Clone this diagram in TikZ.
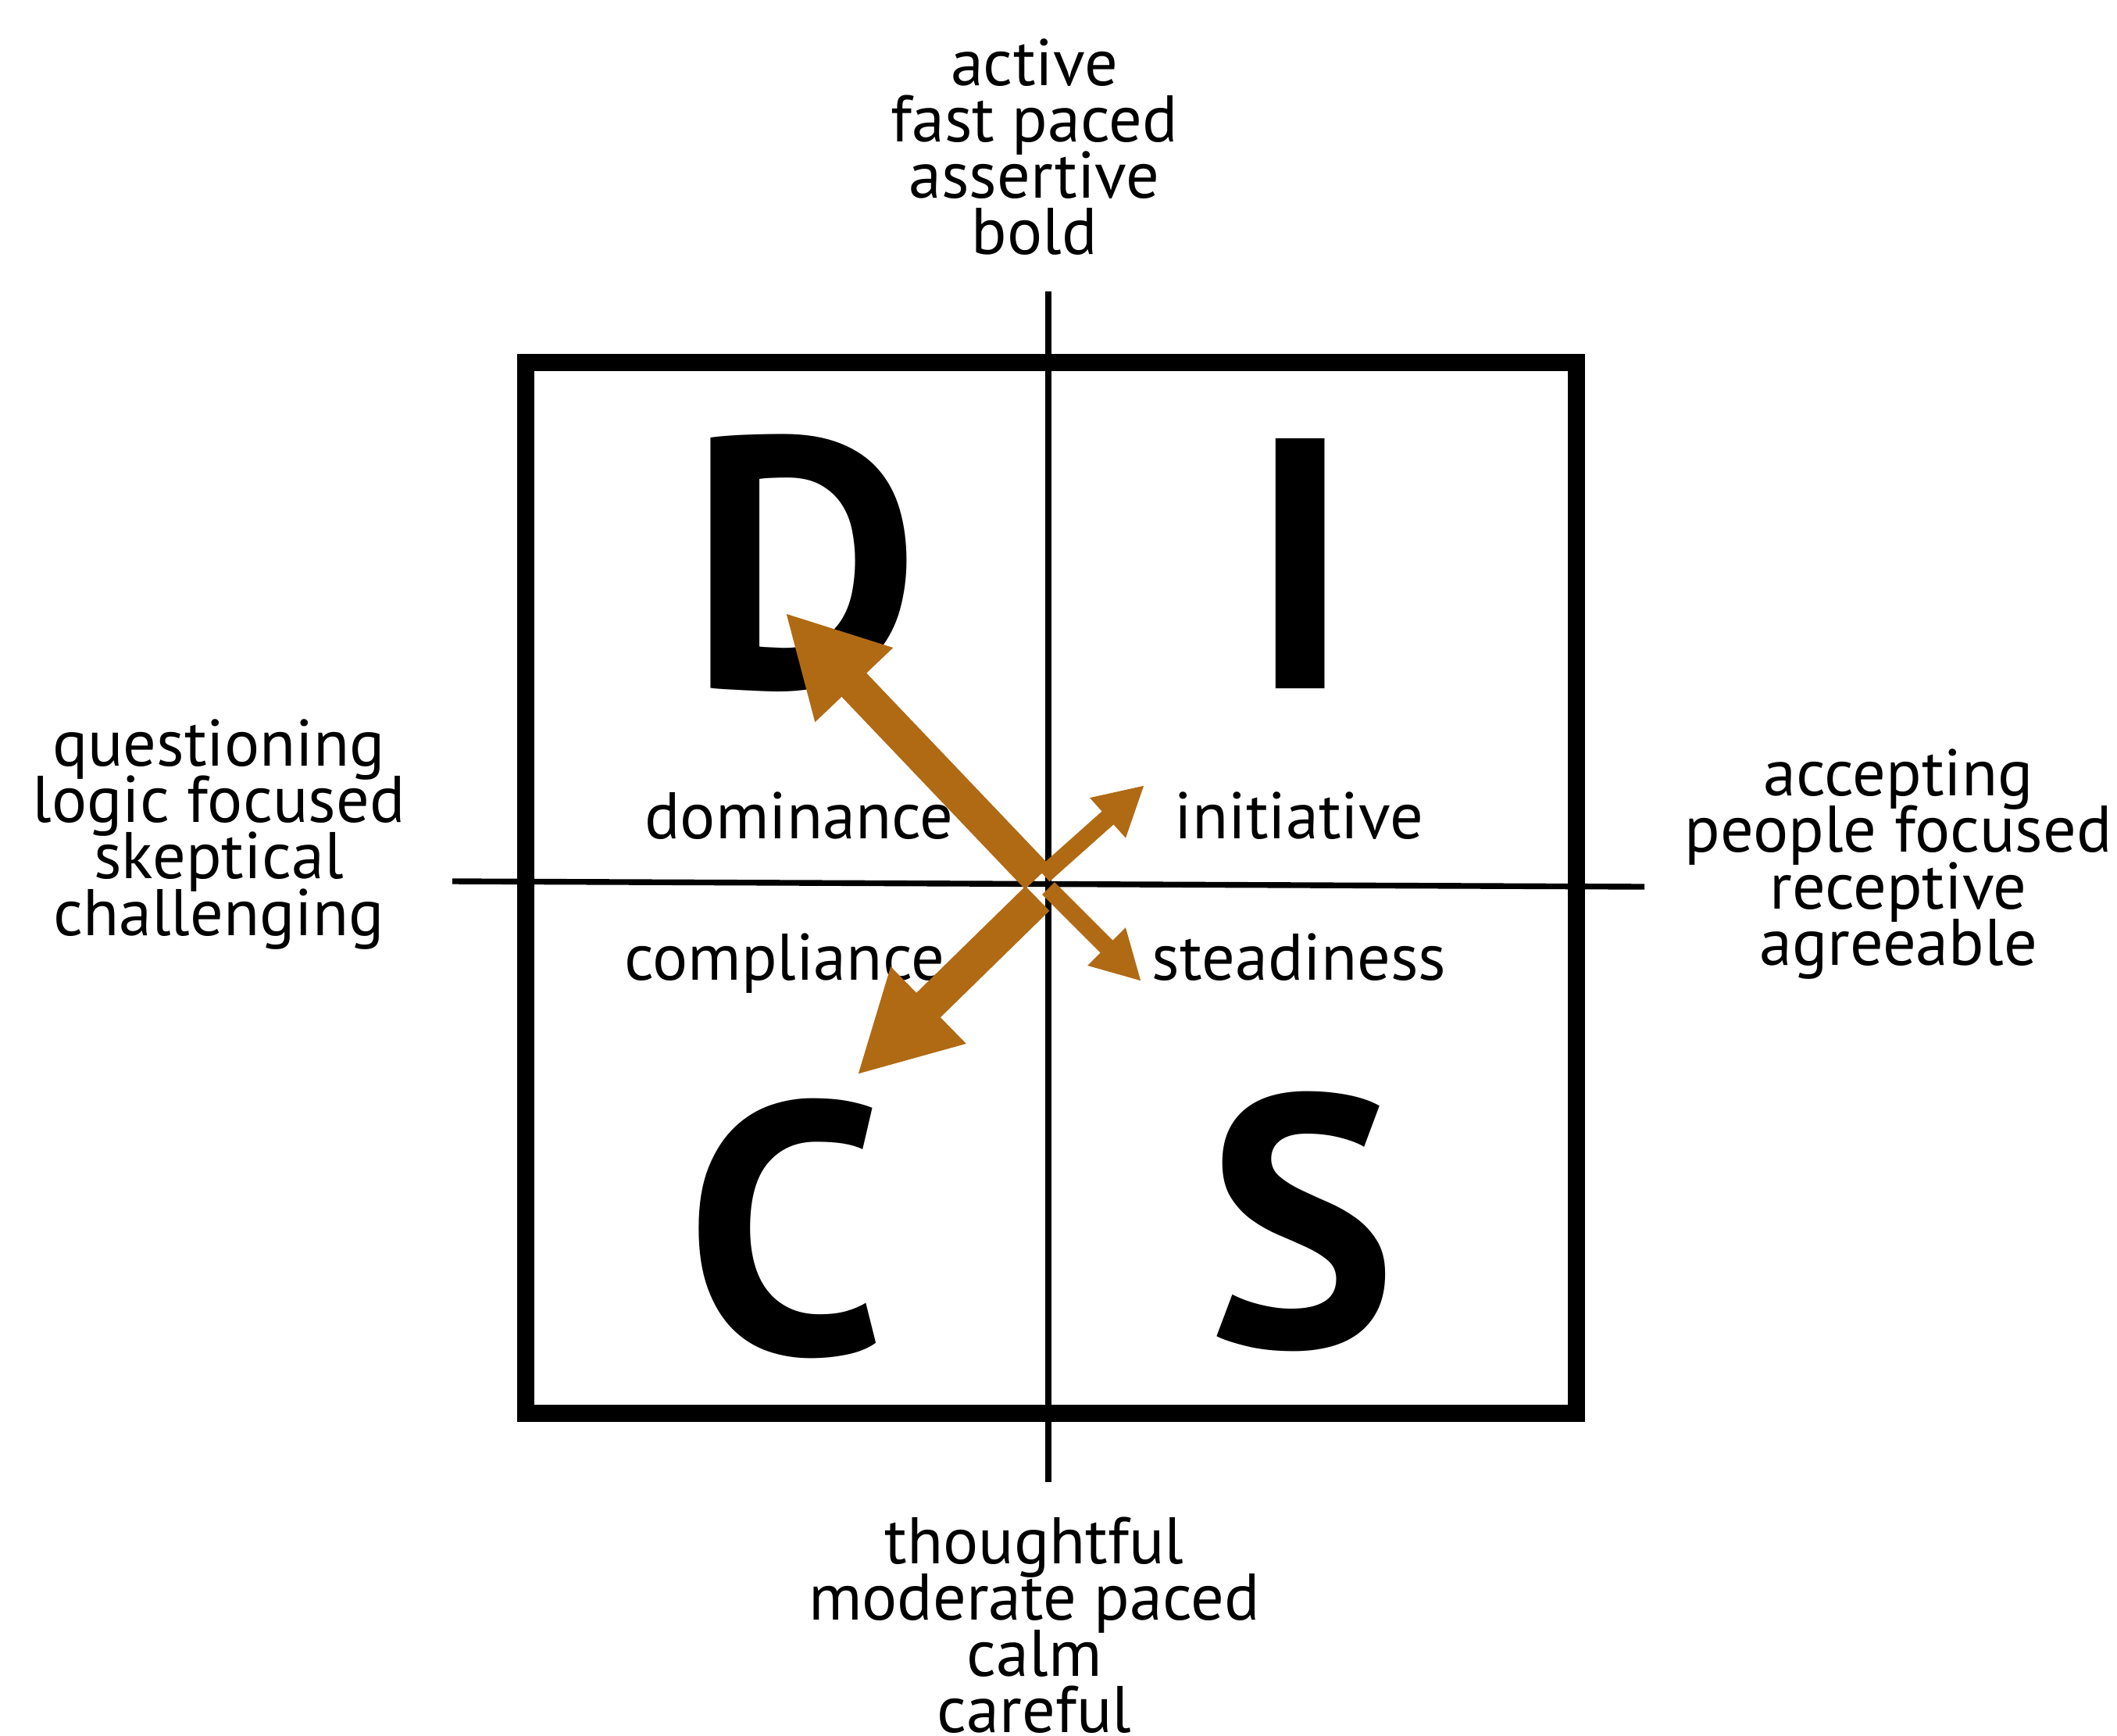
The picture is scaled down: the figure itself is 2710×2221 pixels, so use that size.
\documentclass[tikz,border=0pt]{standalone}
\usepackage{fontspec}
\setmainfont{PT Sans}
\usetikzlibrary{arrows.meta}
\definecolor{discbrown}{RGB}{176,106,20}
\newcommand\sidefont{\fontsize{24}{20.5}\selectfont\lineskiplimit=-20pt\relax}

\begin{document}
\begin{tikzpicture}[x=0.01cm, y=-0.01cm]
\tikzset{side/.style={align=center, font=\sidefont},
  quad/.style={anchor=base, font=\fontsize{24}{20.5}\selectfont},
  letter/.style={inner sep=0pt, font=\fontsize{130}{130}\selectfont\bfseries},
  bigarrow/.style={discbrown, line width=12.5pt, -{Triangle[length=36.4pt, width=36.4pt]}},
  smallarrow/.style={discbrown, line width=6.4pt, -{Triangle[length=17.9pt, width=18.2pt]}}}
\useasboundingbox (0,0) rectangle (2710,2221);

% box and axes
\draw[line width=6.26pt] (673,464) rectangle (2018,1809);
\coordinate (vtop) at (1342,373);
\coordinate (vbot) at (1342,1897);
\coordinate (hleft) at (579,1128);
\coordinate (hright) at (2105,1135);
\draw[line width=2.1pt] (vtop) -- (vbot);
\draw[line width=2.1pt] (hleft) -- (hright);

% the four letters
\node[letter] (D) at (1030,721) {D};
\node[letter] (I) at (1665,721) {I};
\node[letter] (C) at (1005,1572) {C};
\node[letter] (S) at (1667,1563) {S};

% quadrant names
\node[quad] (dom) at (1023,1073) {dominance};
\node[quad] (ini) at (1663,1073) {initiative};
\node[quad] (com) at (1004,1254) {compliance};
\node[quad] (ste) at (1663,1254) {steadiness};

% outside labels
\node[side] (top) at (1324,188) {active\\fast paced\\assertive\\bold};
\node[side] (bot) at (1324,2080) {thoughtful\\moderate paced\\calm\\careful};
\node[side] (left) at (280,1068) {questioning\\logic focused\\skeptical\\challenging};
\node[side] (right) at (2430,1106) {accepting\\people focused\\receptive\\agreeable};

% arrows
\coordinate (istart) at (1336,1120);
\coordinate (itip) at (1465,1005);
\coordinate (sstart) at (1342,1137);
\coordinate (stip) at (1461,1256);
\coordinate (dstart) at (1328,1123);
\coordinate (dtip) at (1005,784);
\coordinate (cstart) at (1328,1150);
\coordinate (ctip) at (1097,1376);
\draw[smallarrow] (istart) -- (itip);
\draw[smallarrow] (sstart) -- (stip);
\draw[bigarrow] (dstart) -- (dtip);
\draw[bigarrow] (cstart) -- (ctip);
\end{tikzpicture}
\end{document}
